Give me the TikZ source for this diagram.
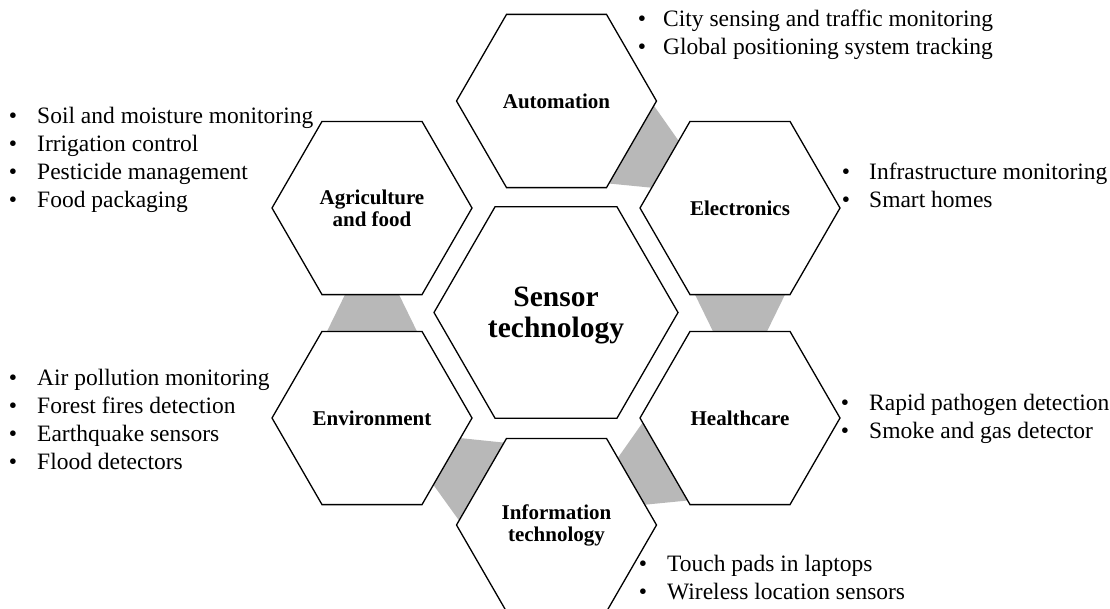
\documentclass[tikz,border=0pt]{standalone}
\usepackage{fontspec}
\setmainfont{Liberation Serif}
\usetikzlibrary{shapes.geometric,calc}
\definecolor{linkgray}{RGB}{184,184,184}
\tikzset{
  hexa/.style={regular polygon, regular polygon sides=6, draw=black, line width=1.3pt,
    fill=white, inner sep=0pt, outer sep=0pt, minimum size=200pt, align=center,
    font=\fontsize{21}{22}\selectfont\bfseries},
  hexbig/.style={hexa, minimum size=244pt},
  bigtxt/.style={align=center, inner sep=0pt, font=\fontsize{29.5}{31}\selectfont\bfseries},
  bul/.style={anchor=base, inner sep=0pt, font=\fontsize{23.5}{28}\selectfont},
  btxt/.style={anchor=base west, inner sep=0pt, font=\fontsize{23.5}{28}\selectfont},
}
\newcommand\blist[5]{% name, bullet x, text x, first baseline, items
  \foreach \t [count=\i] in {#5} {
    \node[bul] (#1b\i) at (#2, {#4+28.2*(\i-1)}) {\textbullet};
    \node[btxt] (#1t\i) at (#3, {#4+28.2*(\i-1)}) {\t};
  }}
\newcommand\hexlink[2]{%
  \fill[linkgray] ($(#1)!86.6pt!(#2)!45pt!90:(#2)$) -- ($(#1)!86.6pt!(#2)!45pt!-90:(#2)$)
    -- ($(#2)!86.6pt!(#1)!27pt!90:(#1)$) -- ($(#2)!86.6pt!(#1)!27pt!-90:(#1)$) -- cycle;}
\begin{document}
\begin{tikzpicture}[x=1pt,y=-1pt]
\useasboundingbox (0,0) rectangle (1110,608);
% centres of the outer hexagons
\coordinate (cAut) at (556.5,101);
\coordinate (cEle) at (740,208);
\coordinate (cHea) at (740,418);
\coordinate (cInf) at (556.5,525);
\coordinate (cEnv) at (372,418);
\coordinate (cAgr) at (372,208);
\hexlink{cAut}{cEle}
\hexlink{cEle}{cHea}
\hexlink{cHea}{cInf}
\hexlink{cInf}{cEnv}
\hexlink{cEnv}{cAgr}
\node[hexbig] (sens) at (556,312.5) {};
\node[bigtxt] (senstxt) at (556,315) {Sensor\\technology};
\node[hexa] (aut) at (cAut) {Automation};
\node[hexa] (ele) at (cEle) {Electronics};
\node[hexa] (hea) at (cHea) {Healthcare};
\node[hexa] (inf) at (cInf) {Information\\technology};
\node[hexa] (env) at (cEnv) {Environment};
\node[hexa] (agr) at (cAgr) {Agriculture\\and food};
\blist{la}{642}{663}{26}{City sensing and traffic monitoring,Global positioning system tracking}
\blist{lb}{13}{37}{123}{Soil and moisture monitoring,Irrigation control,Pesticide management,Food packaging}
\blist{lc}{846}{869}{179}{Infrastructure monitoring,Smart homes}
\blist{ld}{13}{37}{385}{Air pollution monitoring,Forest fires detection,Earthquake sensors,Flood detectors}
\blist{le}{845}{869}{410}{Rapid pathogen detection,Smoke and gas detector}
\blist{lf}{643}{667}{571}{Touch pads in laptops,Wireless location sensors}
\end{tikzpicture}
\end{document}
